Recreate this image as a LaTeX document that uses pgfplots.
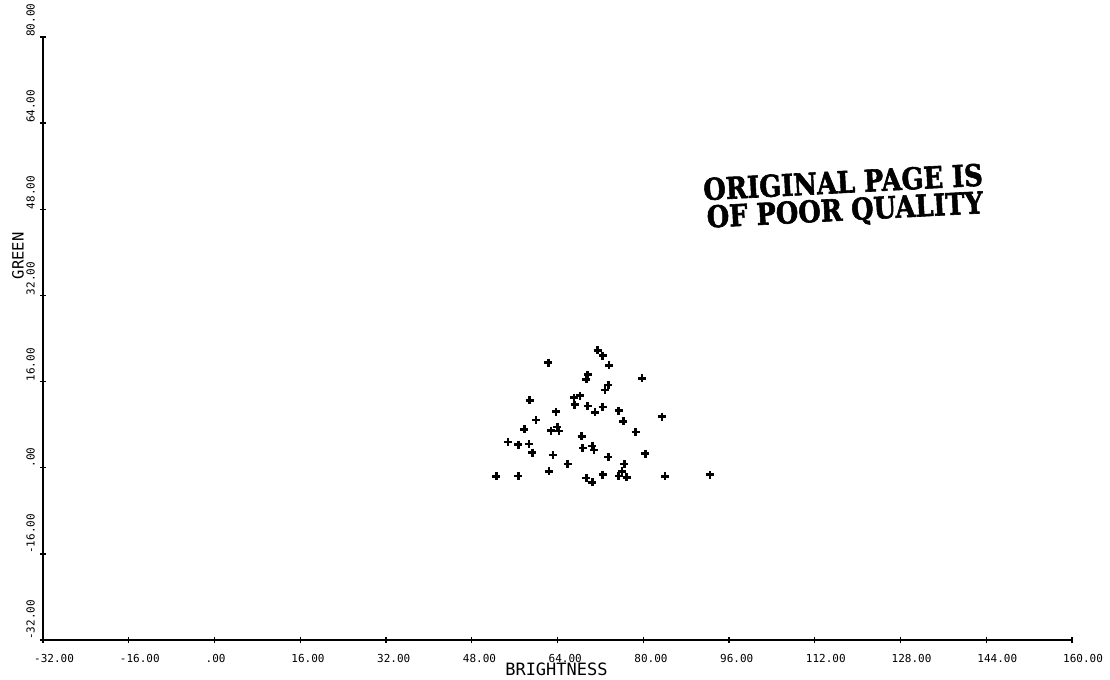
\documentclass[border=0pt]{standalone}
\usepackage{fontspec}
\usepackage{graphicx}
\usepackage{pgfplots}
\pgfplotsset{compat=1.18}
\setmonofont{DejaVu Sans Mono}
\newfontfamily\stampfont[FakeBold=2]{DejaVu Serif Bold}
\begin{document}
\begin{tikzpicture}
\path[use as bounding box] (-43bp,-40bp) rectangle (1067bp,640bp);
\begin{axis}[
  at={(0,0)}, anchor=south west,
  scale only axis, width=1029bp, height=603bp,
  xmin=-32, xmax=160, ymin=-32, ymax=80,
  axis lines=left,
  axis line style={-, line width=1.4bp, black},
  xtick={-32,-16,0,16,32,48,64,80,96,112,128,144,160},
  ytick={-32,-16,0,16,32,48,64,80},
  xticklabels={-32.00,-16.00,.00,16.00,32.00,48.00,64.00,80.00,96.00,112.00,128.00,144.00,160.00},
  yticklabels={-32.00,-16.00,.00,16.00,32.00,48.00,64.00,80.00},
  tick align=center, major tick length=6bp,
  tick style={line width=1.4bp, black},
  tick label style={font=\fontsize{11bp}{12bp}\ttfamily},
  xticklabel style={anchor=north west, inner sep=0pt, xshift=-9bp, yshift=-11bp},
  yticklabel style={inner sep=0pt, xshift=-5bp, rotate=90, anchor=south west},
  xlabel={BRIGHTNESS}, ylabel={GREEN},
  every axis x label/.style={at={(axis description cs:0.499,0)}, yshift=-23bp, anchor=north, inner sep=0pt, font=\fontsize{17bp}{18bp}\ttfamily},
  every axis y label/.style={at={(axis description cs:0,0.637)}, xshift=-19bp, rotate=90, anchor=south, inner sep=0pt, font=\fontsize{15.5bp}{16bp}\ttfamily},
  clip=false,
]
\addplot[only marks, mark=+, mark size=4bp, mark options={line width=2.5bp, black}] coordinates {
(71.5,21.8) (72.4,20.8) (62.3,19.5) (73.6,19.0) (69.6,17.3) (69.4,16.4)
(79.8,16.6) (73.5,15.4) (72.9,14.4) (58.8,12.5) (68.2,13.4) (67.1,13.0)
(67.2,11.7) (69.6,11.5) (72.4,11.3) (71.0,10.3) (63.7,10.4) (75.4,10.6)
(76.3,8.6) (60.0,8.9) (83.5,9.5) (57.8,7.1) (62.8,6.9) (64.0,7.6)
(64.3,6.8) (78.6,6.6) (68.5,5.8) (54.8,4.8) (56.7,4.3) (58.7,4.4)
(59.3,2.8) (68.7,3.7) (70.5,4.0) (70.8,3.3) (63.2,2.4) (80.4,2.6)
(73.5,2.0) (65.9,0.7) (76.5,0.7) (62.4,-0.7) (76.0,-0.7) (75.4,-1.5)
(72.4,-1.3) (52.6,-1.6) (56.7,-1.5) (69.4,-1.9) (70.5,-2.7) (76.9,-1.8)
(84.1,-1.6) (92.5,-1.3)
};
\end{axis}
\node[rotate=3, inner sep=0pt, font=\fontsize{30bp}{30bp}\stampfont]
  at (800bp,458bp) {\scalebox{0.86}[1]{ORIGINAL PAGE IS}};
\node[rotate=3, inner sep=0pt, font=\fontsize{30bp}{30bp}\stampfont]
  at (802bp,428bp) {\scalebox{0.86}[1]{OF POOR QUALITY}};
\end{tikzpicture}
\end{document}
